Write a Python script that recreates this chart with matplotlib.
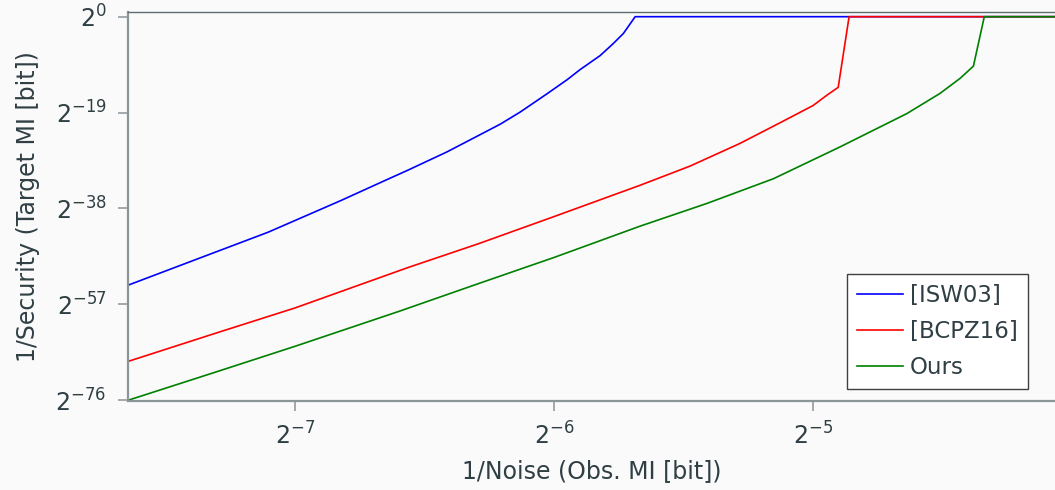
import numpy as np
import matplotlib
matplotlib.use('Agg')
import matplotlib.pyplot as plt
from matplotlib.ticker import FixedLocator, NullLocator

isw_x = [-7.645, -7.367, -7.104, -6.822, -6.672, -6.564, -6.414, -6.324, -6.208, -6.131,
         -6.028, -5.950, -5.900, -5.822, -5.771, -5.732, -5.687, -4.0]
isw_y = [-53.2, -47.8, -42.7, -36.4, -32.9, -30.4, -26.8, -24.4, -21.3, -18.9,
         -15.3, -12.5, -10.5, -7.7, -5.3, -3.3, 0.0, 0.0]

bcpz_x = [-7.645, -7.3, -7.0, -6.564, -6.293, -6.0, -5.668, -5.475, -5.282, -5.127,
          -5.0, -4.948, -4.903, -4.861, -4.0]
bcpz_y = [-68.3, -62.6, -57.7, -49.7, -45.0, -39.6, -33.4, -29.6, -25.1, -21.0,
          -17.6, -15.6, -14.0, 0.0, 0.0]

ours_x = [-7.645, -7.3, -7.0, -6.6, -6.293, -6.0, -5.668, -5.410, -5.153, -4.896,
          -4.638, -4.510, -4.432, -4.381, -4.339, -4.0]
ours_y = [-76.0, -70.3, -65.3, -58.4, -52.9, -47.7, -41.5, -37.0, -32.1, -25.8,
          -19.2, -15.2, -12.2, -9.8, 0.0, 0.0]

x_ticks = [-7, -6, -5]
y_ticks = [0, -19, -38, -57, -76]

text_col = '#2f3f44'
spine_col = '#8b9497'
bg = '#fafafa'

plt.rcParams['font.family'] = ['DejaVu Sans']
plt.rcParams['mathtext.fontset'] = 'dejavusans'

fig = plt.figure(figsize=(10.55, 4.9), dpi=100, facecolor=bg)
ax = fig.add_axes([128 / 1055, 1 - 401 / 490, 1 - 128 / 1055, (401 - 12.3) / 490])
ax.set_facecolor(bg)

ax.plot(2.0 ** np.array(isw_x), 2.0 ** np.array(isw_y), color='#0000ff', lw=1.2, label='[ISW03]')
ax.plot(2.0 ** np.array(bcpz_x), 2.0 ** np.array(bcpz_y), color='#ff0000', lw=1.2, label='[BCPZ16]')
ax.plot(2.0 ** np.array(ours_x), 2.0 ** np.array(ours_y), color='#008000', lw=1.2, label='Ours')

ax.set_xscale('log', base=2)
ax.set_yscale('log', base=2)
ax.set_xlim(2.0 ** -7.645, 2.0 ** -4.066)
ax.set_ylim(2.0 ** -76.14, 2.0 ** 0.87)

ax.xaxis.set_major_locator(FixedLocator([2.0 ** t for t in x_ticks]))
ax.yaxis.set_major_locator(FixedLocator([2.0 ** t for t in y_ticks]))
ax.xaxis.set_minor_locator(NullLocator())
ax.yaxis.set_minor_locator(NullLocator())
ax.set_xticklabels([r'$2^{%d}$' % t for t in x_ticks])
ax.set_yticklabels([r'$2^{%d}$' % t for t in y_ticks])

ax.tick_params(direction='out', length=7.5, width=1.1, color=spine_col,
               labelcolor=text_col, labelsize=17, pad=8)

for s in ['left', 'bottom']:
    ax.spines[s].set_color(spine_col)
    ax.spines[s].set_linewidth(1.6)
ax.spines['top'].set_color('#5d6d6d')
ax.spines['top'].set_linewidth(1.0)
ax.spines['right'].set_visible(False)

ax.set_xlabel('1/Noise (Obs. MI [bit])', fontsize=17, color=text_col, labelpad=7)
ax.set_ylabel('1/Security (Target MI [bit])', fontsize=17, color=text_col, labelpad=11)

leg = ax.legend(loc='lower right', bbox_to_anchor=(0.971, 0.031), borderaxespad=0,
                fontsize=16.5, fancybox=False, framealpha=1,
                facecolor='white', edgecolor='#404040', handlelength=2.0,
                labelspacing=0.55, handletextpad=0.3, borderpad=0.45)
leg.get_frame().set_linewidth(1.0)
for t in leg.get_texts():
    t.set_color(text_col)

fig.savefig('out.png', dpi=100, facecolor=bg)
